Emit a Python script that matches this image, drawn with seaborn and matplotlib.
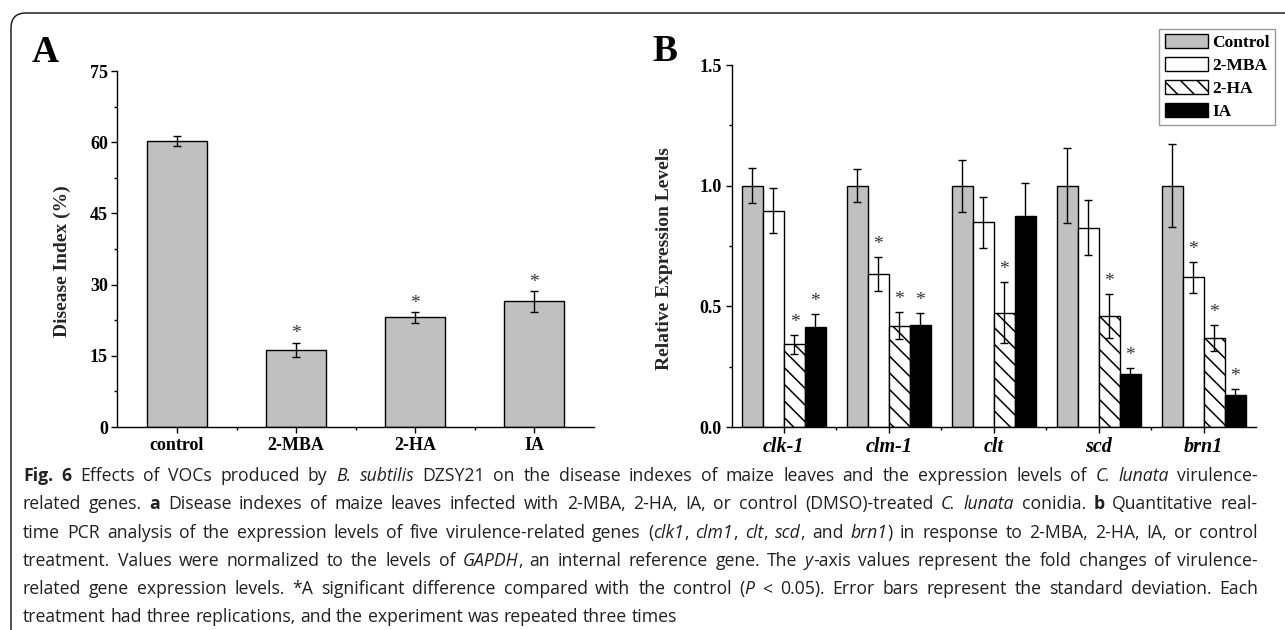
import numpy as np
import pandas as pd
import matplotlib
matplotlib.use("Agg")
import matplotlib.pyplot as plt
from matplotlib.path import Path
from matplotlib.patches import PathPatch, Patch
from matplotlib.ticker import AutoMinorLocator
import seaborn as sns

# ---- panel A: disease index
treatments = ["control", "2-MBA", "2-HA", "IA"]
disease_index = [60.3, 16.3, 23.1, 26.5]
disease_sd = [1.1, 1.5, 1.1, 2.2]
disease_sig = [False, True, True, True]

# ---- panel B: relative expression
genes = ["clk-1", "clm-1", "clt", "scd", "brn1"]
groups = ["Control", "2-MBA", "2-HA", "IA"]
expr_control = [1.0, 1.0, 1.0, 1.0, 1.0]
expr_mba = [0.896, 0.634, 0.848, 0.826, 0.620]
expr_ha = [0.343, 0.420, 0.474, 0.459, 0.367]
expr_ia = [0.415, 0.422, 0.876, 0.219, 0.131]
sd_control = [0.072, 0.069, 0.108, 0.156, 0.173]
sd_mba = [0.094, 0.071, 0.107, 0.114, 0.064]
sd_ha = [0.040, 0.057, 0.125, 0.091, 0.054]
sd_ia = [0.053, 0.049, 0.137, 0.027, 0.025]
sig_control = [False, False, False, False, False]
sig_mba = [False, True, False, False, True]
sig_ha = [True, True, True, True, True]
sig_ia = [True, True, False, True, True]

GRAY = "#c0c0c0"
HATCH = "\\\\"

sns.set_style("ticks")
plt.rcParams["font.family"] = ["Liberation Serif", "DejaVu Serif"]
plt.rcParams["font.weight"] = "bold"
plt.rcParams["axes.labelweight"] = "bold"
plt.rcParams["axes.linewidth"] = 1.0
plt.rcParams["hatch.linewidth"] = 1.1
plt.rcParams["axes.edgecolor"] = "black"
plt.rcParams["xtick.color"] = "black"
plt.rcParams["ytick.color"] = "black"
plt.rcParams["text.color"] = "black"

W, H = 1285, 630
fig = plt.figure(figsize=(W / 100, H / 100), dpi=100)


def fx(px):
    return px / W


def fy(py):
    return 1 - py / H


def style_axes(ax, xsize):
    sns.despine(ax=ax)
    ax.tick_params(which="major", direction="out", length=4, width=1, pad=3)
    ax.tick_params(axis="y", labelsize=13)
    ax.tick_params(axis="x", labelsize=xsize)
    ax.tick_params(which="minor", direction="out", length=2.5, width=1)
    ax.yaxis.set_minor_locator(AutoMinorLocator(2))
    ax.set_xlabel("")


def star(ax, x, y, offset):
    ax.annotate("*", (x, y), xytext=(0, offset), textcoords="offset points",
                ha="center", va="baseline", fontsize=14, fontweight="normal",
                color="#333333")


# ---------------- panel A
ax_a = fig.add_axes([fx(117.5), fy(427), (593.5 - 117.5) / W, (427 - 71) / H])
df_a = pd.DataFrame({"treatment": treatments, "index": disease_index})
sns.barplot(data=df_a, x="treatment", y="index", color=GRAY, saturation=1,
            width=0.5, edgecolor="black", linewidth=1.0, errorbar=None, ax=ax_a)
xs_a = [p.get_x() + p.get_width() / 2 for p in ax_a.patches]
ax_a.errorbar(xs_a, disease_index, yerr=disease_sd, fmt="none", ecolor="black",
              elinewidth=1.0, capsize=3, capthick=1.0, zorder=4)
for x, v, e, s in zip(xs_a, disease_index, disease_sd, disease_sig):
    if s:
        star(ax_a, x, v + e, 2.9)
ax_a.set_ylim(0, 75)
ax_a.set_xlim(-0.5, len(treatments) - 0.5)
ax_a.set_yticks(np.arange(0, 76, 15))
ax_a.set_xticks(np.arange(len(treatments) - 1) + 0.5, minor=True)
style_axes(ax_a, 13)
ax_a.set_ylabel("Disease Index (%)", fontsize=14)
ax_a.yaxis.set_label_coords(-0.098, 0.465)

# ---------------- panel B
ax_b = fig.add_axes([fx(731.5), fy(427), (1256 - 731.5) / W, (427 - 65) / H])
df_b = pd.concat([
    pd.DataFrame({"gene": genes, "group": g, "value": v})
    for g, v in zip(groups, [expr_control, expr_mba, expr_ha, expr_ia])
], ignore_index=True)
palette = {"Control": GRAY, "2-MBA": "white", "2-HA": "white", "IA": "black"}
sns.barplot(data=df_b, x="gene", y="value", hue="group", hue_order=groups,
            palette=palette, saturation=1, width=0.8, gap=0, edgecolor="black",
            linewidth=1.0, errorbar=None, legend=False, ax=ax_b)
for bar in ax_b.containers[2]:
    bar.set_hatch(HATCH)

sds = [sd_control, sd_mba, sd_ha, sd_ia]
sigs = [sig_control, sig_mba, sig_ha, sig_ia]
vals = [expr_control, expr_mba, expr_ha, expr_ia]
for cont, v, e, s in zip(ax_b.containers, vals, sds, sigs):
    xs = [p.get_x() + p.get_width() / 2 for p in cont]
    ax_b.errorbar(xs, v, yerr=e, fmt="none", ecolor="black", elinewidth=1.0,
                  capsize=3, capthick=1.0, zorder=4)
    for x, vv, ee, ss in zip(xs, v, e, s):
        if ss:
            star(ax_b, x, vv + ee, 5.8)
ax_b.set_ylim(0, 1.5)
ax_b.set_xlim(-0.5, len(genes) - 0.5)
ax_b.set_yticks([0.0, 0.5, 1.0, 1.5])
ax_b.set_xticks(np.arange(len(genes) - 1) + 0.5, minor=True)
style_axes(ax_b, 14.5)
for lbl in ax_b.get_xticklabels():
    lbl.set_fontstyle("italic")
ax_b.set_ylabel("Relative Expression Levels", fontsize=14)
ax_b.yaxis.set_label_coords(-0.1115, 0.465)

handles = [
    Patch(facecolor=GRAY, edgecolor="black", label="Control"),
    Patch(facecolor="white", edgecolor="black", label="2-MBA"),
    Patch(facecolor="white", edgecolor="black", hatch=HATCH, label="2-HA"),
    Patch(facecolor="black", edgecolor="black", label="IA"),
]
leg = fig.legend(handles=handles, loc="upper right", bbox_to_anchor=(fx(1275), fy(29)),
                 borderaxespad=0, fontsize=12.5, frameon=True, fancybox=False,
                 edgecolor="#999999", framealpha=1, handlelength=2.5,
                 handleheight=0.85, handletextpad=0.25, labelspacing=0.35,
                 borderpad=0.3)
leg.get_frame().set_linewidth(1.0)

# panel letters
fig.text(fx(32), fy(62), "A", fontsize=27, fontweight="bold", va="baseline")
fig.text(fx(652), fy(61), "B", fontsize=27, fontweight="bold", va="baseline")

# figure frame with rounded top-left corner
verts = [(11, 640), (11, 28), (11, 13), (26, 13), (1295, 13)]
codes = [Path.MOVETO, Path.LINETO, Path.CURVE3, Path.CURVE3, Path.LINETO]
frame = PathPatch(Path([(fx(x), fy(y)) for x, y in verts], codes),
                  transform=fig.transFigure, fill=False, lw=1.1, ec="#222222")
fig.add_artist(frame)

# caption (justified, as in the journal layout)
caption = [
    [("Fig. 6", "b"), (" Effects of VOCs produced by ", "n"), ("B. subtilis", "i"),
     (" DZSY21 on the disease indexes of maize leaves and the expression levels of ", "n"),
     ("C. lunata", "i"), (" virulence-", "n")],
    [("related genes. ", "n"), ("a", "b"),
     (" Disease indexes of maize leaves infected with 2-MBA, 2-HA, IA, or control (DMSO)-treated ", "n"),
     ("C. lunata", "i"), (" conidia. ", "n"), ("b", "b"), (" Quantitative real-", "n")],
    [("time PCR analysis of the expression levels of five virulence-related genes (", "n"),
     ("clk1", "i"), (", ", "n"), ("clm1", "i"), (", ", "n"), ("clt", "i"), (", ", "n"),
     ("scd", "i"), (", and ", "n"), ("brn1", "i"),
     (") in response to 2-MBA, 2-HA, IA, or control", "n")],
    [("treatment. Values were normalized to the levels of ", "n"), ("GAPDH", "i"),
     (", an internal reference gene. The ", "n"), ("y", "i"),
     ("-axis values represent the fold changes of virulence-", "n")],
    [("related gene expression levels. *A significant difference compared with the control (", "n"),
     ("P", "i"), (" < 0.05). Error bars represent the standard deviation. Each", "n")],
    [("treatment had three replications, and the experiment was repeated three times", "n")],
]
cap_kw = dict(family=["Open Sans", "DejaVu Sans"], size=12.7, color="#231f20")
styles = {"n": dict(weight="normal", style="normal"),
          "b": dict(weight="bold", style="normal"),
          "i": dict(weight="normal", style="italic")}
renderer = fig.canvas.get_renderer()
CAP_LEFT, CAP_RIGHT = 23.0, 1258.0


def measure(s, st):
    t = fig.text(0, 0, s, **cap_kw, **styles[st])
    w = t.get_window_extent(renderer).width
    t.remove()
    return w


space_w = measure("x x", "n") - measure("xx", "n")


def split_words(line):
    words = [[]]
    for seg, st in line:
        for k, part in enumerate(seg.split(" ")):
            if k > 0:
                words.append([])
            if part:
                words[-1].append((part, st))
    return [w for w in words if w]


for i, line in enumerate(caption):
    base = 481 + i * 28.3
    words = split_words(line)
    runs = []
    for word in words:
        arts = []
        for txt, st in word:
            t = fig.text(0, fy(base), txt, va="baseline", ha="left", **cap_kw, **styles[st])
            arts.append((t, t.get_window_extent(renderer).width))
        runs.append(arts)
    total = sum(w for arts in runs for _, w in arts)
    n_gaps = len(runs) - 1
    gap = space_w
    if i < len(caption) - 1 and n_gaps > 0:
        gap = max((CAP_RIGHT - CAP_LEFT - total) / n_gaps, 0.6 * space_w)
    x = CAP_LEFT
    for arts in runs:
        for t, w in arts:
            t.set_x(fx(x))
            x += w
        x += gap

fig.savefig("out.png", dpi=100)
